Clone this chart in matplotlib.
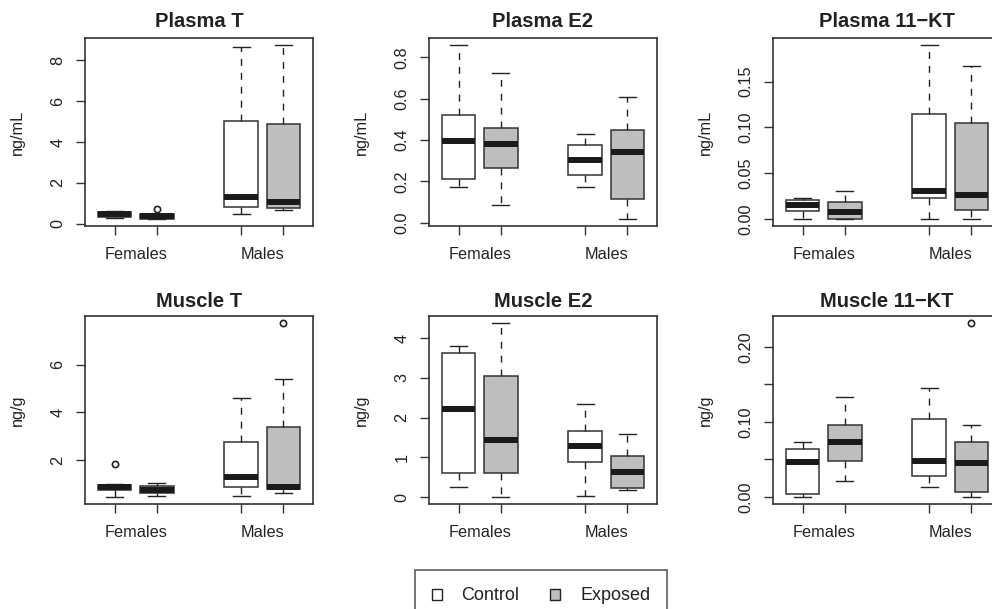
import numpy as np
import matplotlib
matplotlib.use("Agg")
import matplotlib.pyplot as plt
from matplotlib.patches import Patch

plt.rcParams['font.family'] = ['Liberation Sans', 'DejaVu Sans']

# box stats per panel: [whisker low, q1, median, q3, whisker high]
# order of boxes: Females Control, Females Exposed, Males Control, Males Exposed
plasma_t = [[0.29, 0.34, 0.47, 0.58, 0.63],
            [0.22, 0.24, 0.35, 0.46, 0.48],
            [0.45, 0.83, 1.31, 5.04, 8.68],
            [0.65, 0.78, 1.05, 4.89, 8.76]]
plasma_t_out = [[], [0.72], [], []]

plasma_e2 = [[0.173, 0.212, 0.394, 0.523, 0.86],
             [0.086, 0.265, 0.381, 0.457, 0.722],
             [0.173, 0.233, 0.305, 0.376, 0.43],
             [0.018, 0.115, 0.341, 0.451, 0.606]]
plasma_e2_out = [[], [], [], []]

plasma_kt = [[0.0, 0.0088, 0.0157, 0.0208, 0.0234],
             [0.0, 0.0005, 0.0073, 0.0187, 0.0307],
             [0.0, 0.023, 0.0307, 0.1145, 0.19],
             [0.0, 0.0099, 0.0267, 0.105, 0.167]]
plasma_kt_out = [[], [], [], []]

muscle_t = [[0.46, 0.75, 0.86, 0.97, 1.0],
            [0.5, 0.63, 0.76, 0.92, 1.06],
            [0.51, 0.875, 1.31, 2.76, 4.61],
            [0.64, 0.79, 0.9, 3.39, 5.4]]
muscle_t_out = [[1.83], [], [], [7.74]]

muscle_e2 = [[0.25, 0.61, 2.21, 3.62, 3.80],
             [0.0, 0.61, 1.44, 3.04, 4.38],
             [0.025, 0.885, 1.29, 1.65, 2.34],
             [0.175, 0.225, 0.635, 1.03, 1.59]]
muscle_e2_out = [[], [], [], []]

muscle_kt = [[0.0, 0.0035, 0.0468, 0.0636, 0.0728],
             [0.0212, 0.0486, 0.0728, 0.0954, 0.1338],
             [0.0128, 0.0278, 0.0486, 0.1033, 0.1457],
             [0.0, 0.0071, 0.0459, 0.0737, 0.0962]]
muscle_kt_out = [[], [], [], [0.2318]]

titles = ['Plasma T', 'Plasma E2', 'Plasma 11\u2212KT',
          'Muscle T', 'Muscle E2', 'Muscle 11\u2212KT']
units = ['ng/mL', 'ng/mL', 'ng/mL', 'ng/g', 'ng/g', 'ng/g']
groups = ['Females', 'Males']
treatments = ['Control', 'Exposed']

yticks = [[0, 2, 4, 6, 8],
          [0.0, 0.2, 0.4, 0.6, 0.8],
          [0.00, 0.05, 0.10, 0.15],
          [2, 4, 6],
          [0, 1, 2, 3, 4],
          [0.00, 0.05, 0.10, 0.15, 0.20]]
ylabels = [['0', '2', '4', '6', '8'],
           ['0.0', '0.2', '0.4', '0.6', '0.8'],
           ['0.00', '0.05', '0.10', '0.15'],
           ['2', '4', '6'],
           ['0', '1', '2', '3', '4'],
           ['0.00', '', '0.10', '', '0.20']]

panels = [(plasma_t, plasma_t_out), (plasma_e2, plasma_e2_out), (plasma_kt, plasma_kt_out),
          (muscle_t, muscle_t_out), (muscle_e2, muscle_e2_out), (muscle_kt, muscle_kt_out)]

positions = [1, 2, 4, 5]
fills = ['white', '#BEBEBE']
ink = '#222222'
fs = 11.7

W, H = 992, 609
fig = plt.figure(figsize=(W / 100, H / 100), dpi=100)

lefts = [85, 429, 773]
tops = [38, 316]
aw, ah = 228, 188
title_pad = [8.0, 6.5]

for k, (stats, outs) in enumerate(panels):
    r, c = divmod(k, 3)
    ax = fig.add_axes([lefts[c] / W, 1 - (tops[r] + ah) / H, aw / W, ah / H])
    bstats = [dict(whislo=s[0], q1=s[1], med=s[2], q3=s[3], whishi=s[4], fliers=o)
              for s, o in zip(stats, outs)]
    res = ax.bxp(bstats, positions=positions, widths=0.8, capwidths=0.4,
                 patch_artist=True, manage_ticks=False,
                 boxprops=dict(edgecolor='#333333', linewidth=1.1),
                 whiskerprops=dict(color=ink, linewidth=1.0, linestyle=(0, (5, 5))),
                 capprops=dict(color=ink, linewidth=1.0),
                 medianprops=dict(color='#1a1a1a', linewidth=4.3, solid_capstyle='butt'),
                 flierprops=dict(marker='o', markerfacecolor='none', markeredgecolor=ink,
                                 markersize=4.5, markeredgewidth=1.2))
    for j, b in enumerate(res['boxes']):
        b.set_facecolor(fills[j % 2])

    allv = np.array([v for s in stats for v in s] + [v for o in outs for v in o])
    lo, hi = allv.min(), allv.max()
    ext = (hi - lo) * 0.04
    ax.set_ylim(lo - ext, hi + ext)
    ax.set_xlim(0.3, 5.7)

    ax.set_xticks(positions)
    ax.set_xticklabels([''] * 4)
    ax.set_xticks([1.5, 4.5], minor=True)
    ax.set_xticklabels(groups, minor=True)
    ax.tick_params(axis='x', which='major', direction='out', length=6.5, width=1, color='#333333')
    ax.tick_params(axis='x', which='minor', length=0, pad=15, labelsize=fs, labelcolor=ink)

    ax.set_yticks(yticks[k])
    ax.set_yticklabels(ylabels[k])
    ax.tick_params(axis='y', direction='out', length=6.5, width=1, pad=7.5,
                   labelsize=fs, labelcolor=ink, color='#333333')
    plt.setp(ax.get_yticklabels(), rotation=90, va='center')

    for sp in ax.spines.values():
        sp.set_color('#333333')
        sp.set_linewidth(1.2)

    ax.set_ylabel(units[k], fontsize=fs, color=ink)
    ax.yaxis.set_label_coords(-0.265, 0.5)
    ax.set_title(titles[k], fontsize=14.5, fontweight='bold', color=ink, pad=title_pad[r])

handles = [Patch(facecolor=fills[i], edgecolor=ink, linewidth=1.0) for i in range(2)]
leg = fig.legend(handles, treatments, loc='center', bbox_to_anchor=(541 / W, 1 - 596 / H),
                 ncol=2, fontsize=13, frameon=True, fancybox=False, edgecolor='#333333',
                 handlelength=0.55, handleheight=0.55, handletextpad=1.1,
                 columnspacing=1.7, borderpad=0.95, labelcolor=ink)
leg.get_frame().set_linewidth(1.2)

fig.savefig('out.png', dpi=100, facecolor='white')
